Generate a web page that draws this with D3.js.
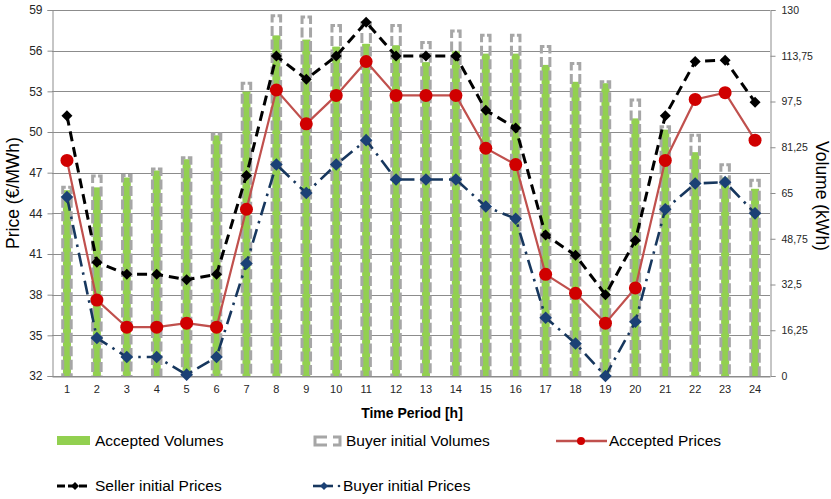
<!DOCTYPE html>
<html>
<head>
<meta charset="utf-8">
<script src="https://cdn.jsdelivr.net/npm/d3@7/dist/d3.min.js"></script>
<style>
  html, body { margin: 0; padding: 0; background: #fff; }
  svg { display: block; font-family: "Liberation Sans", Arial, sans-serif; }
</style>
</head>
<body>
<svg id="chart" width="831" height="499"></svg>
<script>
// Hourly periods
const hours = d3.range(1, 25).map(String);

// Volumes (kWh), right axis
const acceptedVolumes = [66, 67, 70.5, 73, 77, 85.5, 101, 121, 119.5, 117, 118, 117.5,
                         111.5, 115.5, 114.5, 114.5, 110.5, 104.5, 104, 91.5, 87.5, 79.5, 70.5, 66.5];
const buyerInitialVolumes = [67, 71, 71.2, 73.5, 77.5, 86, 104, 128, 127.5, 124.5, 125.5, 124.5,
                             118.5, 122.5, 121, 121, 117, 111, 104.5, 98, 88.5, 85.5, 75, 69.5];

// Prices (€/MWh), left axis
const acceptedPrices = [47.9, 37.6, 35.6, 35.6, 35.9, 35.6, 44.3, 53.1, 50.6, 52.7, 55.2, 52.7,
                        52.7, 52.7, 48.8, 47.6, 39.5, 38.1, 35.9, 38.5, 47.9, 52.4, 52.9, 49.4];
const sellerInitialPrices = [51.2, 40.4, 39.5, 39.5, 39.1, 39.5, 46.8, 55.6, 53.9, 55.6, 58.1, 55.6,
                             55.6, 55.6, 51.6, 50.3, 42.4, 40.9, 38.0, 42.0, 51.2, 55.2, 55.3, 52.2];
const buyerInitialPrices = [45.2, 34.8, 33.4, 33.4, 32.1, 33.4, 40.3, 47.6, 45.5, 47.6, 49.4, 46.5,
                            46.5, 46.5, 44.5, 43.6, 36.3, 34.4, 32.0, 36.0, 44.3, 46.2, 46.3, 44.0];

// Axis ticks
const priceTicks = [32, 35, 38, 41, 44, 47, 50, 53, 56, 59];
const volumeTicks = [0, 16.25, 32.5, 48.75, 65, 81.25, 97.5, 113.75, 130];
const volumeTickLabels = ["0", "16,25", "32,5", "48,75", "65", "81,25", "97,5", "113,75", "130"];

const svg = d3.select("#chart");
const plot = { left: 52, right: 770, top: 10, bottom: 376 };

const x = d3.scaleBand().domain(hours).range([plot.left, plot.right]).padding(0);
const cx = h => x(h) + x.bandwidth() / 2;
const yP = d3.scaleLinear().domain([32, 59]).range([plot.bottom, plot.top]);
const yV = d3.scaleLinear().domain([0, 130]).range([plot.bottom, plot.top]);

const gridColor = "#8c8c8c";
const textColor = "#262626";

// Horizontal gridlines
svg.append("g")
  .selectAll("line").data(priceTicks).join("line")
  .attr("x1", plot.left).attr("x2", plot.right)
  .attr("y1", d => Math.round(yP(d)) + 0.5).attr("y2", d => Math.round(yP(d)) + 0.5)
  .attr("stroke", gridColor).attr("stroke-width", 1);

// Left axis
const leftAxis = svg.append("g")
  .attr("transform", `translate(${plot.left + 0.5},0)`)
  .call(d3.axisLeft(yP).tickValues(priceTicks).tickSize(5).tickPadding(5).tickFormat(d3.format("d")));
leftAxis.select(".domain").attr("stroke", gridColor);
leftAxis.selectAll(".tick line").attr("stroke", gridColor);
leftAxis.selectAll("text").attr("fill", textColor).style("font-size", "12px");

// Right axis
const rightAxis = svg.append("g")
  .attr("transform", `translate(${plot.right + 0.5},0)`)
  .call(d3.axisRight(yV).tickValues(volumeTicks).tickSize(5).tickPadding(6)
        .tickFormat((d, i) => volumeTickLabels[i]));
rightAxis.select(".domain").attr("stroke", gridColor);
rightAxis.selectAll(".tick line").attr("stroke", gridColor);
rightAxis.selectAll("text").attr("fill", textColor).style("font-size", "10.5px");

// Bottom axis labels
const bottomAxis = svg.append("g")
  .attr("transform", `translate(0,${plot.bottom + 0.5})`)
  .call(d3.axisBottom(x).tickSize(0).tickPadding(9));
bottomAxis.select(".domain").attr("stroke", gridColor);
bottomAxis.selectAll("text").attr("fill", textColor).style("font-size", "11px");

// Volume bars
const barW = 8.5;
const green = "#92d050";
const grayBar = "#a6a6a6";

svg.append("g")
  .selectAll("rect").data(hours).join("rect")
  .attr("x", h => cx(h) - 4)
  .attr("width", 8)
  .attr("y", (h, i) => yV(acceptedVolumes[i]))
  .attr("height", (h, i) => plot.bottom - yV(acceptedVolumes[i]))
  .attr("fill", green);

// Dashed outline drawn as two brackets from the top centre outwards and down
const outline = svg.append("g")
  .attr("fill", "none")
  .attr("stroke", grayBar)
  .attr("stroke-width", 3)
  .attr("stroke-dasharray", "10,3.5");
outline.selectAll("path.l").data(hours).join("path").attr("class", "l")
  .attr("d", (h, i) => {
    const c = cx(h), t = yV(buyerInitialVolumes[i]);
    return `M${c - 1.2},${t} H${c - barW / 2} V${plot.bottom}`;
  });
outline.selectAll("path.r").data(hours).join("path").attr("class", "r")
  .attr("d", (h, i) => {
    const c = cx(h), t = yV(buyerInitialVolumes[i]);
    return `M${c + 1.2},${t} H${c + barW / 2} V${plot.bottom}`;
  });

// Price series
const diamond = r => `M0,${-r}L${r},0L0,${r}L${-r},0Z`;
const line = vals => d3.line().x((d, i) => cx(hours[i])).y(d => yP(d))(vals);

// Accepted prices
svg.append("path").attr("d", line(acceptedPrices))
  .attr("fill", "none").attr("stroke", "#c0504d").attr("stroke-width", 2.2);
svg.append("g").selectAll("circle").data(acceptedPrices).join("circle")
  .attr("cx", (d, i) => cx(hours[i])).attr("cy", d => yP(d)).attr("r", 6.5)
  .attr("fill", "#d00000");

// Seller initial prices
svg.append("path").attr("d", line(sellerInitialPrices))
  .attr("fill", "none").attr("stroke", "#000").attr("stroke-width", 3)
  .attr("stroke-dasharray", "10,6");
svg.append("g").selectAll("path").data(sellerInitialPrices).join("path")
  .attr("d", diamond(5.5))
  .attr("transform", (d, i) => `translate(${cx(hours[i])},${yP(d)})`)
  .attr("fill", "#000");

// Buyer initial prices
const navy = "#17375e";
svg.append("path").attr("d", line(buyerInitialPrices))
  .attr("fill", "none").attr("stroke", navy).attr("stroke-width", 2.6)
  .attr("stroke-dasharray", "14,6,2.5,6");
svg.append("g").selectAll("path").data(buyerInitialPrices).join("path")
  .attr("d", diamond(6.3))
  .attr("transform", (d, i) => `translate(${cx(hours[i])},${yP(d)})`)
  .attr("fill", "#1b4175");

// Axis titles
svg.append("text")
  .attr("transform", `translate(19,${(plot.top + plot.bottom) / 2}) rotate(-90)`)
  .attr("text-anchor", "middle").attr("fill", "#000")
  .style("font-size", "17.5px").text("Price (€/MWh)");
svg.append("text")
  .attr("transform", `translate(816,${(plot.top + plot.bottom) / 2 + 3}) rotate(90)`)
  .attr("text-anchor", "middle").attr("fill", "#000")
  .style("font-size", "17.5px").text("Volume (kWh)");
svg.append("text")
  .attr("x", 412).attr("y", 418)
  .attr("text-anchor", "middle").attr("fill", "#000")
  .style("font-size", "14px").style("font-weight", "bold").text("Time Period [h]");

// Legend
const legend = svg.append("g").style("font-size", "15.5px").attr("fill", "#000");
const row1 = 441, row2 = 486;

legend.append("rect").attr("x", 57).attr("y", row1 - 5).attr("width", 33).attr("height", 9).attr("fill", green);
legend.append("text").attr("x", 95).attr("y", row1).attr("dy", "0.35em").text("Accepted Volumes");

legend.append("path")
  .attr("d", `M327,${row1 - 4} H315 V${row1 + 4} H327 M333,${row1 - 4} H340 V${row1 + 4} H333`)
  .attr("fill", "none").attr("stroke", grayBar).attr("stroke-width", 3);
legend.append("text").attr("x", 346).attr("y", row1).attr("dy", "0.35em").text("Buyer initial Volumes");

legend.append("line").attr("x1", 556).attr("x2", 607).attr("y1", row1).attr("y2", row1)
  .attr("stroke", "#c0504d").attr("stroke-width", 2.5);
legend.append("circle").attr("cx", 581).attr("cy", row1).attr("r", 4).attr("fill", "#d00000");
legend.append("text").attr("x", 609).attr("y", row1).attr("dy", "0.35em").text("Accepted Prices");

legend.append("line").attr("x1", 57).attr("x2", 90).attr("y1", row2).attr("y2", row2)
  .attr("stroke", "#000").attr("stroke-width", 3).attr("stroke-dasharray", "8,3");
legend.append("path").attr("d", diamond(4)).attr("transform", `translate(75,${row2})`).attr("fill", "#000");
legend.append("text").attr("x", 95).attr("y", row2).attr("dy", "0.35em").text("Seller initial Prices");

legend.append("line").attr("x1", 313).attr("x2", 333).attr("y1", row2).attr("y2", row2)
  .attr("stroke", navy).attr("stroke-width", 2.6);
legend.append("path").attr("d", diamond(4)).attr("transform", `translate(324,${row2})`).attr("fill", "#1b4175");
legend.append("circle").attr("cx", 339).attr("cy", row2).attr("r", 1.3).attr("fill", navy);
legend.append("text").attr("x", 343).attr("y", row2).attr("dy", "0.35em").text("Buyer initial Prices");
</script>
</body>
</html>
